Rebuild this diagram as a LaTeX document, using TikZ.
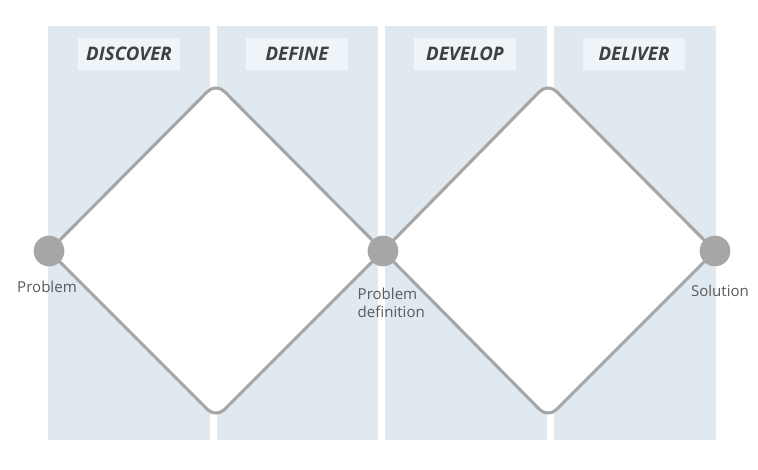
\documentclass[tikz,border=0pt]{standalone}
\usepackage{fontspec}
\setmainfont{Open Sans}
\usepackage{xcolor}
\usetikzlibrary{positioning}

\definecolor{panelblue}{HTML}{E0E9F0}
\definecolor{boxblue}{HTML}{EFF4F8}
\definecolor{linegray}{HTML}{A6A6A6}
\definecolor{textgray}{HTML}{595959}
\definecolor{headgray}{HTML}{404040}

\begin{document}
\begin{tikzpicture}[x=0.75pt, y=-0.75pt,
        panel/.style={fill=panelblue, draw=none},
        phase/.style={fill=boxblue, minimum width=76.5pt, minimum height=24pt, inner sep=0pt,
            font=\fontsize{14}{16}\selectfont\bfseries\itshape, text=headgray},
        stage/.style={circle, fill=linegray, minimum size=23pt, inner sep=0pt},
        caption/.style={font=\fontsize{11.3}{14}\selectfont, text=textgray},
        diamond line/.style={draw=linegray, line width=2.3pt, fill=white, rounded corners=9pt}]
        \useasboundingbox (0,0) rectangle (758,470);

        % four phase columns
        \fill[panel] (48,26) rectangle (210,440);
        \fill[panel] (217,26) rectangle (378,440);
        \fill[panel] (385,26) rectangle (547,440);
        \fill[panel] (554,26) rectangle (716,440);

        \node[phase] (discover) at (129,54) {DISCOVER};
        \node[phase] (define) at (297,54) {DEFINE};
        \node[phase] (develop) at (465,54) {DEVELOP};
        \node[phase] (deliver) at (634,54) {DELIVER};

        % diamonds
        \coordinate (top1) at (216,83);
        \coordinate (bot1) at (216,418);
        \coordinate (top2) at (548,83);
        \coordinate (bot2) at (548,418);
        \coordinate (p) at (49,251);
        \coordinate (pd) at (383,251);
        \coordinate (s) at (715,251);

        \draw[diamond line] (p) -- (top1) -- (pd) -- (bot1) -- cycle;
        \draw[diamond line] (pd) -- (top2) -- (s) -- (bot2) -- cycle;

        \node[stage] (problem) at (p) {};
        \node[stage] (definition) at (pd) {};
        \node[stage] (solution) at (s) {};

        \node[caption] (problemlabel) at (47,287) {Problem};
        \node[caption, align=left, anchor=west] (definitionlabel) at (353,303) {Problem\\definition};
        \node[caption] (solutionlabel) at (720,291) {Solution};
    \end{tikzpicture}
\end{document}
